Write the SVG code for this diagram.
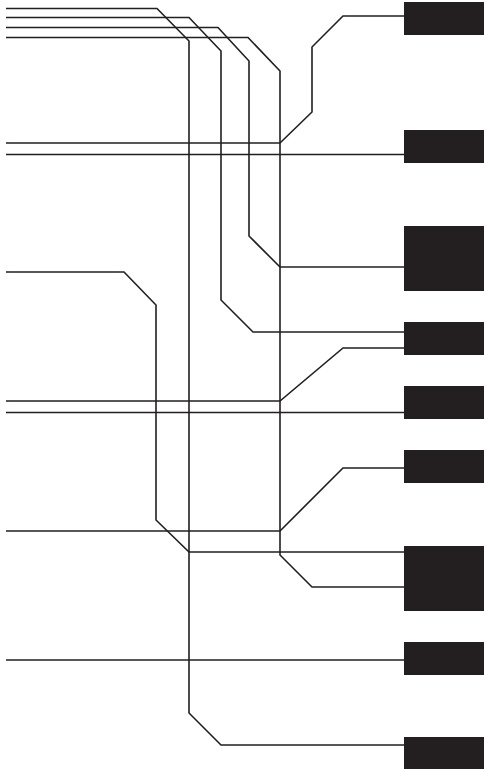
<svg xmlns="http://www.w3.org/2000/svg" width="484" height="769" viewBox="0 0 484 769">
<style>
.c{fill:none;stroke:#231f20;stroke-width:1.6;stroke-linejoin:miter}
.b{fill:#231f20}
</style>
<rect width="484" height="769" fill="#fff"/>
<g id="connectors">
<path class="c" d="M6,8.5 H157 L189,41 V713 L221,745 H404"/>
<path class="c" d="M6,17.5 H189 L221,51 V300 L253,332 H404"/>
<path class="c" d="M6,27.5 H218 L249,61 V236 L280,267 H404"/>
<path class="c" d="M6,37.5 H248 L280,71 V555 L312,587 H404"/>
<path class="c" d="M6,143 H280 L312,112 V47 L343,16 H404"/>
<path class="c" d="M6,154.5 H404"/>
<path class="c" d="M6,272 H124 L156,305 V520 L189,552 H404"/>
<path class="c" d="M6,401 H280 L343,348 H404"/>
<path class="c" d="M6,412.5 H404"/>
<path class="c" d="M6,531 H280 L343,468 H404"/>
<path class="c" d="M6,660 H404"/>
</g>
<g id="n1"><rect class="b" x="404" y="2" width="80" height="33"/></g>
<g id="n2"><rect class="b" x="404" y="130" width="80" height="33"/></g>
<g id="n3"><rect class="b" x="404" y="226" width="80" height="65"/></g>
<g id="n4"><rect class="b" x="404" y="322" width="80" height="33"/></g>
<g id="n5"><rect class="b" x="404" y="386" width="80" height="33"/></g>
<g id="n6"><rect class="b" x="404" y="450" width="80" height="33"/></g>
<g id="n7"><rect class="b" x="404" y="546" width="80" height="65"/></g>
<g id="n8"><rect class="b" x="404" y="642" width="80" height="33"/></g>
<g id="n9"><rect class="b" x="404" y="737" width="80" height="32"/></g>
</svg>
